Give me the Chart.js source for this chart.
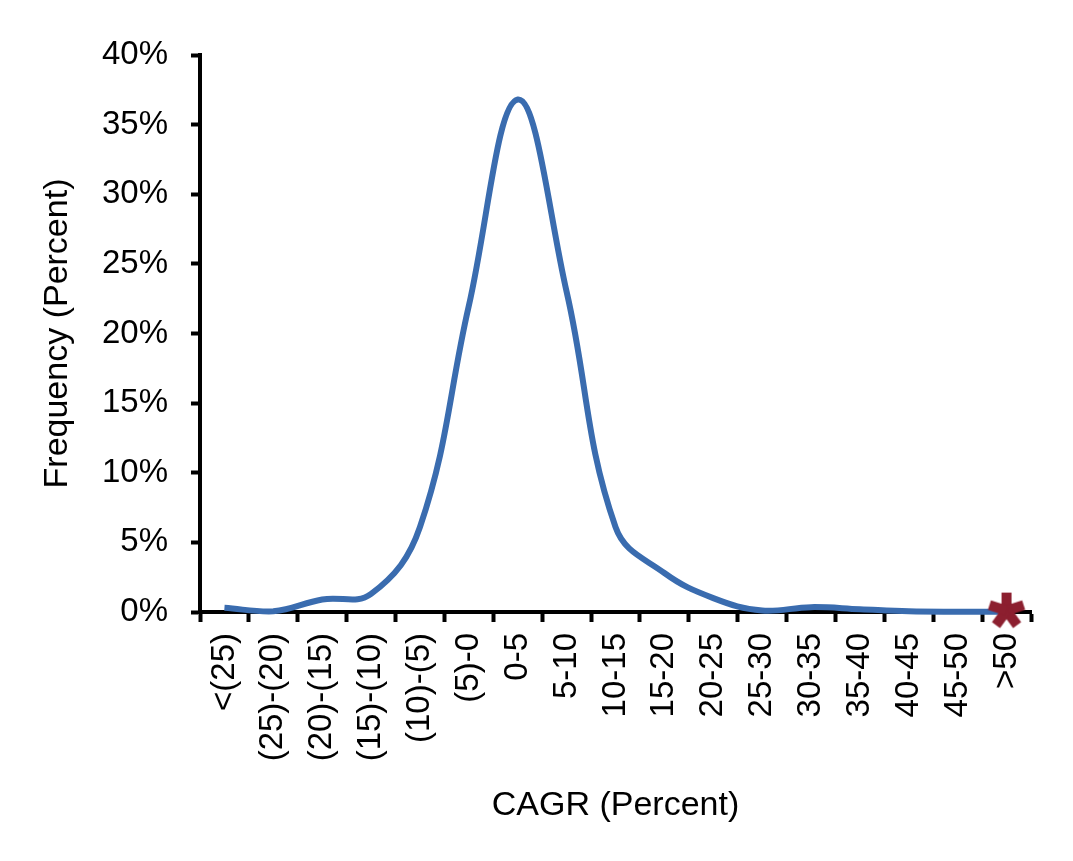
<!DOCTYPE html>
<html>
<head>
<meta charset="utf-8">
<script src="https://cdn.jsdelivr.net/npm/chart.js@4.4.0/dist/chart.umd.min.js"></script>
<style>
    html, body { margin: 0; padding: 0; background: #fff; }
    #wrap { width: 1073px; height: 861px; }
</style>
</head>
<body>
<div id="wrap"><canvas id="cagrChart" width="1073" height="861"></canvas></div>
<script>
// CAGR buckets (x axis categories)
const categories = ['<(25)', '(25)-(20)', '(20)-(15)', '(15)-(10)', '(10)-(5)', '(5)-0', '0-5', '5-10',
    '10-15', '15-20', '20-25', '25-30', '30-35', '35-40', '40-45', '45-50', '>50'];

// Frequency, percent of companies in each bucket
const frequency = [0.3, 0.05, 0.9, 1.3, 6.1, 22, 36.8, 23, 6.1, 2.8, 1.0, 0.1, 0.35, 0.2, 0.05, 0.02, 0.02];

// Highlighted bucket (red asterisk)
const markerValues = [null, null, null, null, null, null, null, null, null, null, null, null, null, null, null, null, 0.1];

// Y axis tick range
const yTicks = { min: 0, max: 40, step: 5 };

const FONT = '"Liberation Sans", Arial, Helvetica, sans-serif';

/**
 * Build the five armed asterisk used as the marker
 */
function makeAsterisk() {
    const c = document.createElement('canvas');
    c.width = 40;
    c.height = 40;
    const g = c.getContext('2d');
    g.translate(20, 20);
    g.strokeStyle = '#8c1f2f';
    g.lineWidth = 10;
    g.lineCap = 'butt';
    for (let i = 0; i < 5; i++) {
        const a = -Math.PI / 2 + i * 2 * Math.PI / 5;
        g.beginPath();
        g.moveTo(0, 0);
        g.lineTo(Math.cos(a) * 18, Math.sin(a) * 18);
        g.stroke();
    }
    return c;
}

document.addEventListener('DOMContentLoaded', function() {
    const ctx = document.getElementById('cagrChart');
    if (!ctx) return;

    new Chart(ctx, {
        type: 'line',
        data: {
            labels: categories,
            datasets: [{
                data: markerValues,
                showLine: false,
                pointStyle: makeAsterisk(),
                pointRadius: 18,
                order: 0,
                clip: false
            }, {
                data: frequency,
                borderColor: '#3a6caf',
                borderWidth: 6,
                tension: 0.4,
                pointRadius: 0,
                fill: false,
                order: 1,
                clip: false
            }]
        },
        options: {
            responsive: false,
            animation: false,
            layout: {
                padding: { left: 0, right: 42, top: 55, bottom: 0 }
            },
            plugins: {
                legend: { display: false },
                tooltip: { enabled: false }
            },
            scales: {
                x: {
                    offset: true,
                    afterFit: function(scale) { scale.height = 249; },
                    grid: {
                        offset: true,
                        drawOnChartArea: false,
                        tickLength: 10,
                        tickWidth: 4,
                        tickColor: '#000'
                    },
                    border: { color: '#000', width: 4 },
                    ticks: {
                        color: '#000',
                        font: { family: FONT, size: 33 },
                        minRotation: 90,
                        maxRotation: 90,
                        autoSkip: false,
                        padding: 11
                    },
                    title: {
                        display: true,
                        text: 'CAGR (Percent)',
                        color: '#000',
                        font: { family: FONT, size: 34 },
                        padding: { top: 0, bottom: 35 }
                    }
                },
                y: {
                    min: yTicks.min,
                    max: yTicks.max,
                    afterFit: function(scale) { scale.width = 200; },
                    grid: {
                        drawOnChartArea: false,
                        tickLength: 9,
                        tickWidth: 4,
                        tickColor: '#000'
                    },
                    border: { color: '#000', width: 4 },
                    ticks: {
                        stepSize: yTicks.step,
                        color: '#000',
                        font: { family: FONT, size: 33 },
                        padding: 23,
                        callback: function(value) {
                            return value + '%';
                        }
                    },
                    title: {
                        display: true,
                        text: 'Frequency (Percent)',
                        color: '#000',
                        font: { family: FONT, size: 34 },
                        padding: { top: 37, bottom: 0 }
                    }
                }
            }
        }
    });
});
</script>
</body>
</html>
